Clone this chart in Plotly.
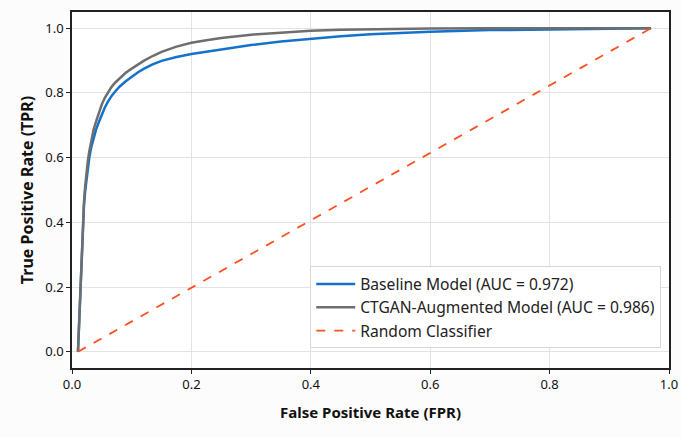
import plotly.graph_objects as go

# ROC data
baseline_fpr = [0.010, 0.011, 0.012, 0.013, 0.014, 0.0155, 0.017, 0.0185, 0.020, 0.022, 0.024,
                0.0265, 0.029, 0.032, 0.036, 0.040, 0.045, 0.050, 0.055, 0.060, 0.066, 0.073,
                0.080, 0.090, 0.100, 0.110, 0.120, 0.135, 0.150, 0.175, 0.200, 0.250, 0.300,
                0.350, 0.400, 0.450, 0.500, 0.550, 0.600, 0.700, 0.800, 0.900, 0.970]
baseline_tpr = [0.000, 0.050, 0.100, 0.150, 0.200, 0.280, 0.350, 0.400, 0.450, 0.495, 0.530,
                0.570, 0.600, 0.630, 0.660, 0.685, 0.710, 0.735, 0.755, 0.772, 0.790, 0.806,
                0.820, 0.836, 0.850, 0.863, 0.874, 0.888, 0.899, 0.911, 0.920, 0.935, 0.948,
                0.959, 0.968, 0.975, 0.981, 0.986, 0.989, 0.994, 0.997, 0.999, 1.000]

ctgan_fpr = [0.010, 0.011, 0.012, 0.013, 0.014, 0.0155, 0.017, 0.0185, 0.020, 0.022, 0.024,
             0.0265, 0.029, 0.032, 0.036, 0.040, 0.045, 0.050, 0.055, 0.060, 0.066, 0.073,
             0.080, 0.090, 0.100, 0.110, 0.120, 0.135, 0.150, 0.175, 0.200, 0.225, 0.250,
             0.300, 0.350, 0.400, 0.450, 0.500, 0.600, 0.700, 0.800, 0.970]
ctgan_tpr = [0.000, 0.050, 0.100, 0.150, 0.200, 0.280, 0.360, 0.410, 0.460, 0.510, 0.550,
             0.590, 0.620, 0.650, 0.685, 0.710, 0.740, 0.765, 0.785, 0.802, 0.818, 0.833,
             0.846, 0.862, 0.875, 0.888, 0.899, 0.914, 0.927, 0.943, 0.955, 0.963, 0.970,
             0.980, 0.987, 0.992, 0.995, 0.997, 0.999, 1.000, 1.000, 1.000]

random_fpr = [0.010, 0.970]
random_tpr = [0.000, 1.000]

names = ["Baseline Model (AUC = 0.972)", "CTGAN-Augmented Model (AUC = 0.986)", "Random Classifier"]
tick_vals = [0.0, 0.2, 0.4, 0.6, 0.8, 1.0]
tick_text = ["0.0", "0.2", "0.4", "0.6", "0.8", "1.0"]

fig = go.Figure()
fig.add_trace(go.Scatter(x=baseline_fpr, y=baseline_tpr, mode="lines", name=names[0],
                         line=dict(color="#1572cc", width=2.5)))
fig.add_trace(go.Scatter(x=ctgan_fpr, y=ctgan_tpr, mode="lines", name=names[1],
                         line=dict(color="#6e6e6e", width=2.5)))
fig.add_trace(go.Scatter(x=random_fpr, y=random_tpr, mode="lines", name=names[2],
                         line=dict(color="#ff5020", width=1.8, dash="dash")))

axis_common = dict(
    showgrid=True, gridcolor="#e3e3e3", gridwidth=1,
    showline=True, linecolor="#222222", linewidth=1.5, mirror=True,
    ticks="outside", ticklen=4, tickcolor="#222222",
    zeroline=False, automargin=False,
    tickfont=dict(family="Noto Sans", size=13, color="#111111"),
    tickvals=tick_vals, ticktext=tick_text,
)

fig.update_layout(
    width=681, height=437,
    margin=dict(l=72, r=12, t=12, b=69),
    paper_bgcolor="#fcfcfc", plot_bgcolor="#ffffff",
    showlegend=True,
    legend=dict(x=0.987, y=0.055, xanchor="right", yanchor="bottom",
                bgcolor="rgba(255,255,255,0.9)", bordercolor="#d6d6d6", borderwidth=1,
                font=dict(family="Noto Sans", size=15.6, color="#222222"),
                itemwidth=39, tracegroupgap=2),
    xaxis=dict(range=[0, 1.0],
               title=dict(text="False Positive Rate (FPR)",
                          font=dict(family="Noto Sans", size=15, color="#111111", weight="bold")),
               **axis_common),
    yaxis=dict(range=[-0.05, 1.05],
               title=dict(text="True Positive Rate (TPR)", standoff=8,
                          font=dict(family="Noto Sans", size=16, color="#111111", weight="bold")),
               **axis_common),
)

fig.write_html("out.html", config={"displayModeBar": False},
               post_script="document.body.style.margin='0';")
